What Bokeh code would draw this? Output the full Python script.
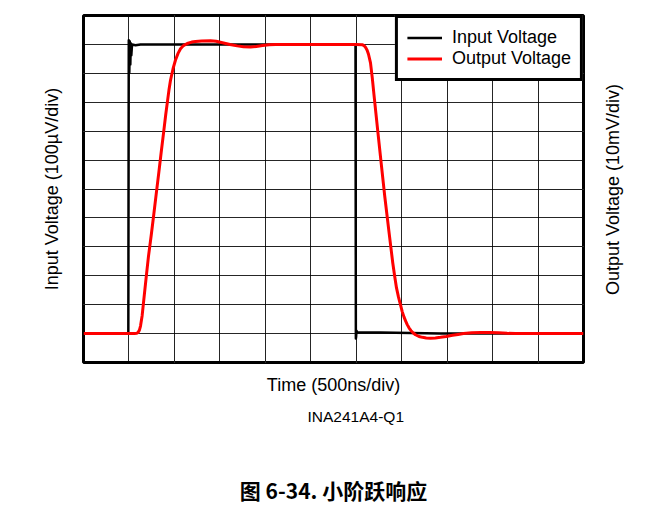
import math
from bokeh.plotting import figure
from bokeh.models import Range1d, LinearAxis, FixedTicker, Legend, LegendItem, Grid, Title, Label
from bokeh.embed import file_html
from bokeh.resources import INLINE

# Time axis: 500 ns/div, 11 divisions
x_ticks = list(range(0, 5501, 500))
# Input voltage: 100 uV/div, 12 divisions
y_in_ticks = list(range(0, 1201, 100))
# Output voltage: 10 mV/div, 12 divisions
y_out_ticks = list(range(0, 121, 10))

# Input voltage trace (ns, uV)
time_in_ns = [0, 493, 498, 504, 509, 515, 520, 526, 534, 572, 627, 1500, 2500, 2992,
              2996, 2999, 3003, 3009, 3267, 3927, 5500]
input_uv = [100, 100, 1114, 1003, 1111, 1031, 1104, 1062, 1100, 1097, 1100, 1100, 1100, 1100,
            83, 90, 110, 105, 104, 100, 100]

# Output voltage trace (ns, mV)
time_out_ns = [0, 560, 585, 600, 615, 627, 645, 663, 690, 715, 745, 773, 800, 828, 855, 883,
               904, 924, 940, 957, 985, 1012, 1040, 1067, 1100, 1141, 1190, 1232, 1300, 1397,
               1460, 1529, 1610, 1691, 1760, 1837, 1900, 1969, 2040, 2112, 2250, 2387, 2700,
               3000, 3066, 3085, 3102, 3120, 3135, 3157, 3176, 3196, 3216, 3237, 3275, 3314,
               3358, 3402, 3423, 3443, 3465, 3487, 3506, 3526, 3544, 3561, 3582, 3603, 3628,
               3652, 3690, 3729, 3770, 3817, 3870, 3927, 3990, 4059, 4120, 4180, 4270, 4367,
               4465, 4565, 4660, 4752, 5100, 5500]
output_mv = [10.0, 10.0, 10.1, 10.4, 11.2, 12.6, 16.2, 21.6, 29.6, 36.8, 44.0, 51.2, 58.3, 65.6,
             72.8, 80.0, 85.6, 90.4, 94.2, 97.6, 101.6, 104.6, 106.9, 108.5, 109.6, 110.3,
             110.8, 111.0, 111.2, 111.3, 111.1, 110.6, 110.0, 109.5, 109.2, 109.1, 109.3,
             109.6, 109.9, 110.0, 110.0, 110.0, 110.0, 110.0, 109.9, 109.6, 109.0, 108.0,
             106.6, 103.6, 98.6, 92.4, 86.3, 80.0, 68.8, 57.4, 45.8, 34.4, 29.8, 25.8, 22.6,
             19.9, 17.6, 15.7, 14.3, 13.1, 11.9, 11.0, 10.2, 9.6, 9.0, 8.7, 8.5, 8.4, 8.5,
             8.7, 9.0, 9.4, 9.7, 10.0, 10.3, 10.4, 10.4, 10.3, 10.1, 10.0, 10.0, 10.0]

p = figure(width=664, height=508, output_backend="svg", toolbar_location=None,
           x_range=Range1d(0, 5500), y_range=Range1d(0, 1200),
           x_axis_location=None, y_axis_location=None,
           min_border_left=83, min_border_right=81, min_border_top=15, min_border_bottom=146)
p.extra_y_ranges = {"out": Range1d(0, 120)}
p.background_fill_color = "white"
p.border_fill_color = "white"
p.outline_line_color = "black"
p.outline_line_width = 3


def title_axis(ax, standoff, font="Liberation Sans", size="18px", style="normal"):
    ax.major_tick_line_color = None
    ax.minor_tick_line_color = None
    ax.major_tick_in = 0
    ax.major_tick_out = 0
    ax.minor_tick_in = 0
    ax.minor_tick_out = 0
    ax.major_label_standoff = 0
    ax.axis_line_color = None
    ax.axis_label_text_font = font
    ax.axis_label_text_font_size = size
    ax.axis_label_text_font_style = style
    ax.axis_label_text_color = "black"
    ax.axis_label_standoff = standoff


# Axes only carry the titles (no tick labels are shown in the reference)
xaxis = LinearAxis(ticker=FixedTicker(ticks=[]), axis_label="Time (500ns/div)")
yaxis_l = LinearAxis(ticker=FixedTicker(ticks=[]), axis_label="Input Voltage (100\u00b5V/div)")
caption = LinearAxis(ticker=FixedTicker(ticks=[]), axis_label="图 6-34. 小阶跃响应")
title_axis(xaxis, 12)
title_axis(yaxis_l, 22)
title_axis(caption, 42, font="Noto Sans CJK SC", size="21px", style="bold")

p.add_layout(xaxis, "below")
p.add_layout(Title(text="INA241A4-Q1", align="left", offset=224, standoff=16,
                   vertical_align="bottom",
                   text_font="Liberation Sans", text_font_size="15.5px",
                   text_font_style="normal", text_color="black"), "below")
p.add_layout(caption, "below")
p.add_layout(yaxis_l, "left")

# Right-hand title (reads bottom to top, like the reference)
p.add_layout(Label(x=29, y=173, x_units="screen", y_units="screen",
                   text="Output Voltage (10mV/div)", angle=math.pi / 2,
                   text_align="center", text_baseline="middle",
                   text_font="Liberation Sans", text_font_size="18px",
                   text_color="black"), "right")

p.add_layout(Grid(dimension=0, ticker=FixedTicker(ticks=x_ticks), grid_line_color="black",
                  grid_line_width=1, grid_line_alpha=0.85))
p.add_layout(Grid(dimension=1, ticker=FixedTicker(ticks=y_in_ticks), grid_line_color="black",
                  grid_line_width=1, grid_line_alpha=0.85))

r_in = p.line(time_in_ns, input_uv, line_color="black", line_width=2.5, line_join="round")
r_out = p.line(time_out_ns, output_mv, y_range_name="out", line_color="red", line_width=3,
               line_join="round")

legend = Legend(items=[LegendItem(label="Input Voltage", renderers=[r_in]),
                       LegendItem(label="Output Voltage", renderers=[r_out])],
                location="top_right", margin=0, padding=9, spacing=0,
                glyph_width=35, glyph_height=21, label_height=21, label_standoff=10,
                label_text_font="Liberation Sans", label_text_font_size="18px",
                label_text_color="black",
                border_line_color="black", border_line_width=3, border_line_alpha=1,
                background_fill_color="white", background_fill_alpha=1)
p.add_layout(legend)

open("out.html", "w").write(file_html(p, INLINE))
